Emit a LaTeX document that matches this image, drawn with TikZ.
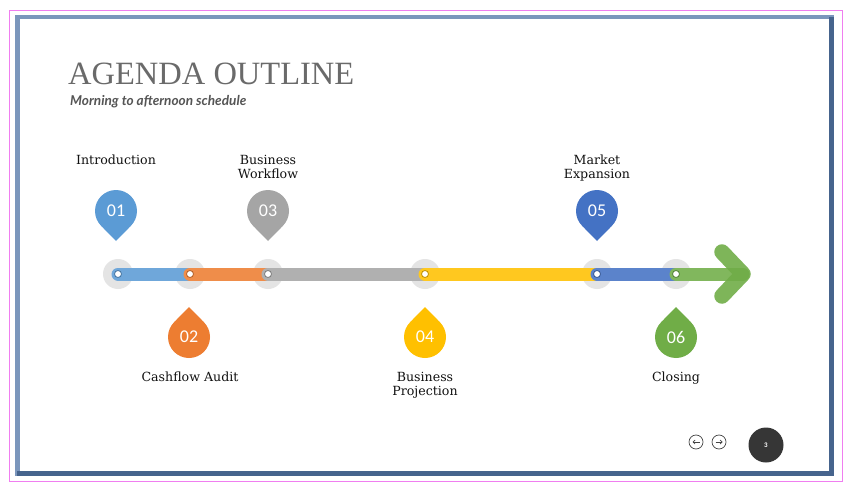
\documentclass[tikz,border=0pt]{standalone}
\usepackage{fontspec}
\usepackage{xcolor}
\usepackage{tikz}
\usetikzlibrary{arrows.meta,positioning,calc}
\setmainfont{DejaVu Serif}
\newfontfamily\titlefont{Liberation Serif}
\newfontfamily\subfont{Lato}
\newfontfamily\numfont{Carlito}
\definecolor{c1}{HTML}{5B9BD5}
\definecolor{c2}{HTML}{ED7D31}
\definecolor{c3}{HTML}{A5A5A5}
\definecolor{c4}{HTML}{FFC000}
\definecolor{c5}{HTML}{4472C4}
\definecolor{c6}{HTML}{70AD47}
\definecolor{halogray}{HTML}{E4E4E4}
\definecolor{framepink}{HTML}{F07EF0}
\definecolor{edge}{HTML}{7B96BC}
\definecolor{edgedark}{HTML}{46648D}
\definecolor{titlegray}{HTML}{6A6A6A}
\definecolor{subgray}{HTML}{555555}
\definecolor{labelink}{HTML}{111111}
\definecolor{navgray}{HTML}{444444}
\definecolor{pagedark}{HTML}{363636}

\begin{document}
\begin{tikzpicture}[x=1pt, y=-1pt,
  haloring/.style={circle,fill=halogray,minimum size=30pt,inner sep=0pt},
  stopdot/.style={circle,fill=white,draw=#1!75!black,line width=0.8pt,minimum size=7pt,inner sep=0pt},
  numtext/.style={text=white,font=\numfont\fontsize{18}{18}\selectfont,inner sep=0pt},
  steplabel/.style={text=labelink,font=\fontsize{12.6}{14}\selectfont,align=center,anchor=north,inner sep=0pt},
  navring/.style={circle,draw=navgray,line width=0.7pt,minimum size=14pt,inner sep=0pt}]
  \useasboundingbox (0,0) rectangle (851,492);
  % outer frame and slide
  \draw[framepink,line width=1pt] (9.5,10.5) rectangle (842.5,481.5);
  \fill[edge] (15,15) rectangle (834,476);
  \fill[edgedark] (829,17) rectangle (834,476);
  \fill[edgedark] (17,471) rectangle (834,476);
  \fill[white] (20,19) rectangle (829,471);
  % title
  \node[anchor=base west,inner sep=0pt,text=titlegray,font=\titlefont\fontsize{32.5}{32.5}\selectfont] (title) at (68,85) {AGENDA OUTLINE};
  \node[anchor=base west,inner sep=0pt,text=subgray,font=\subfont\bfseries\itshape\fontsize{13.6}{14}\selectfont] (subtitle) at (70,106) {Morning to afternoon schedule};
  % stops on the timeline
  \foreach \i/\x in {1/118, 2/190, 3/268, 4/425, 5/597, 6/676}
    \node[haloring] (h\i) at (\x,274) {};
  % bar pieces
  \foreach \a/\b/\col in {1/2/c1, 2/3/c2, 3/4/c3, 4/5/c4, 5/6/c5}
    \draw[\col!88!white,line width=13pt,line cap=round] (h\a.center) -- (h\b.center);
  % arrow at the end
  \coordinate (tip) at (743,274);
  \coordinate (armup) at (722,252);
  \coordinate (armdown) at (722,296);
  \draw[c6!88!white,line width=13pt,line cap=round] (h6.center) -- (tip);
  \draw[c6,opacity=0.9,line width=15.5pt,line cap=round,line join=round] (armup) -- (tip) -- (armdown);
  \foreach \i/\col in {1/c1, 2/c2, 3/c3, 4/c4, 5/c5, 6/c6}
    \node[stopdot=\col] (s\i) at (h\i) {};
  % drop pins, 1 = point down, -1 = point up
  \foreach \i/\x/\col/\d in {1/116/c1/1, 2/189/c2/-1, 3/268/c3/1, 4/425/c4/-1, 5/597/c5/1, 6/676/c6/-1} {
    \fill[\col] (\x,274-63*\d) circle (21);
    \fill[\col] (\x,274-33*\d) -- ++(15,-15.3*\d) -- ++(-30,0) -- cycle;
    \node[numtext] (p\i) at (\x,274-63*\d) {0\i};
  }
  % step labels
  \node[steplabel] (l1) at (116,155) {Introduction};
  \node[steplabel] (l3) at (268,155) {Business\\Workflow};
  \node[steplabel] (l5) at (597,155) {Market\\Expansion};
  \node[steplabel] (l2) at (190,372) {Cashflow Audit};
  \node[steplabel] (l4) at (425,372) {Business\\Projection};
  \node[steplabel] (l6) at (676,372) {Closing};
  % page navigation
  \node[navring] (prev) at (696,442) {};
  \node[navring] (next) at (719,442) {};
  \draw[navgray,line width=0.7pt,-{Straight Barb[length=2pt,width=4pt]}] ([xshift=3.5pt]prev.center) -- ([xshift=-3.5pt]prev.center);
  \draw[navgray,line width=0.7pt,-{Straight Barb[length=2pt,width=4pt]}] ([xshift=-3.5pt]next.center) -- ([xshift=3.5pt]next.center);
  \node[circle,fill=pagedark,minimum size=35pt,inner sep=0pt,text=white,font=\numfont\bfseries\fontsize{7}{7}\selectfont] (pagenum) at (766,445) {3};
\end{tikzpicture}
\end{document}
